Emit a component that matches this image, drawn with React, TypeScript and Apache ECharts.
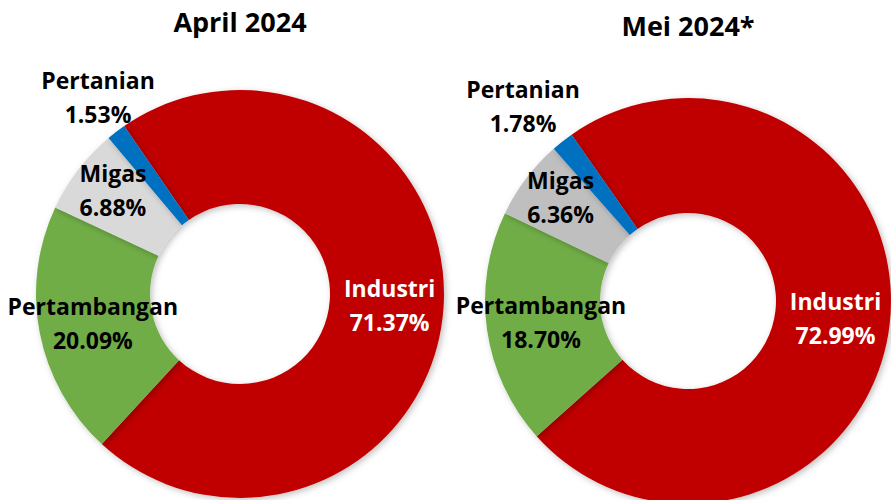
import React, { useEffect, useRef } from "react";
import * as echarts from "echarts";

const categories = ["Industri", "Pertambangan", "Migas", "Pertanian"];
const aprilValues = [71.37, 20.09, 6.88, 1.53];
const meiValues = [72.99, 18.7, 6.36, 1.78];
const titles = ["April 2024", "Mei 2024*"];

const aprilColors = ["#C00000", "#70AD47", "#D9D9D9", "#0070C0"];
const meiColors = ["#C00000", "#70AD47", "#BFBFBF", "#0070C0"];
const labelColors = ["#FFFFFF", "#000000", "#000000", "#000000"];

const FONT = "'Open Sans', 'DejaVu Sans', sans-serif";

function buildSeries(
  values: number[],
  colors: string[],
  center: [number, number],
  radius: [number, number],
  startAngle: number,
  pertanianPos: [number, number],
  migasShift: [number, number]
) {
  return {
    type: "pie",
    center,
    radius,
    startAngle,
    clockwise: true,
    avoidLabelOverlap: false,
    minShowLabelAngle: 0,
    data: categories.map((name, i) => ({
      name,
      value: values[i],
      itemStyle: {
        color: colors[i],
        borderWidth: 0,
        shadowBlur: 6,
        shadowColor: "rgba(0,0,0,0.25)",
        shadowOffsetX: 2,
        shadowOffsetY: 2,
      },
      label: { color: labelColors[i] },
    })),
    label: {
      show: true,
      position: "inside",
      fontFamily: FONT,
      fontWeight: "bold",
      fontSize: 23,
      lineHeight: 34,
      align: "center",
      formatter: (p: any) => `${p.name}\n${Number(p.value).toFixed(2)}%`,
    },
    labelLine: { show: false },
    emphasis: { disabled: true },
    labelLayout: (params: any) => {
      if (params.dataIndex === 3) {
        return {
          x: pertanianPos[0],
          y: pertanianPos[1],
          align: "center",
          verticalAlign: "middle",
        };
      }
      if (params.dataIndex === 2) {
        return { dx: migasShift[0], dy: migasShift[1] };
      }
      return {};
    },
  };
}

export default function App() {
  const ref = useRef<HTMLDivElement>(null);

  useEffect(() => {
    if (!ref.current) return;
    const chart = echarts.init(ref.current, null, { renderer: "svg" });
    chart.setOption({
      animation: false,
      backgroundColor: "#FFFFFF",
      title: [
        {
          text: titles[0],
          left: 235,
          top: 3,
          textAlign: "center",
          textStyle: {
            fontFamily: FONT,
            fontWeight: "bold",
            fontSize: 27,
            color: "#000000",
          },
        },
        {
          text: titles[1],
          left: 683,
          top: 7,
          textAlign: "center",
          textStyle: {
            fontFamily: FONT,
            fontWeight: "bold",
            fontSize: 27,
            color: "#000000",
          },
        },
      ],
      series: [
        buildSeries(aprilValues, aprilColors, [240, 294], [90, 204], 124.6, [98, 97], [-8, -13]),
        buildSeries(meiValues, meiColors, [688, 301], [88, 203], 125, [523, 106], [-9, -14]),
      ],
    });
    return () => chart.dispose();
  }, []);

  return (
    <div
      ref={ref}
      style={{ position: "fixed", left: 0, top: 0, width: 891, height: 500 }}
    />
  );
}
